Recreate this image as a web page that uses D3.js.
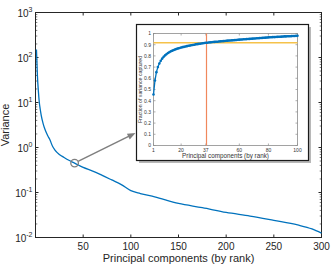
<!DOCTYPE html>
<html>
<head>
<meta charset="utf-8">
<script src="https://cdn.jsdelivr.net/npm/d3@7"></script>
<style>
body { margin: 0; background: #fff; }
svg { display: block; font-family: "Liberation Sans", Arial, sans-serif; }
</style>
</head>
<body>
<svg id="chart" width="332" height="267"></svg>
<script>
// main curve: variance by component rank
var mainRanks = [1, 2, 3, 4, 5, 6, 8, 10, 13, 15, 18, 20, 25, 30, 35, 41, 50, 60, 70, 80, 90, 100, 110, 125, 150, 175, 200, 225, 250, 275, 290, 300];
var mainVariance = [150, 40, 18, 10, 7, 5.2, 3.4, 2.5, 1.8, 1.5, 1.05, 0.9, 0.7, 0.6, 0.52, 0.45, 0.36, 0.3, 0.24, 0.19, 0.15, 0.11, 0.095, 0.08, 0.057, 0.046, 0.036, 0.03, 0.024, 0.019, 0.0155, 0.0125];
var xTicks = [50, 100, 150, 200, 250, 300];
var yExps = [-2, -1, 0, 1, 2, 3];
var markRank = 41, markValue = 0.45;

// inset: cumulative fraction of variance for ranks 1..100
var insetFraction = [0.455, 0.58, 0.655, 0.70, 0.732, 0.757, 0.776, 0.792, 0.805, 0.816,
  0.826, 0.834, 0.841, 0.847, 0.853, 0.858, 0.863, 0.867, 0.871, 0.875,
  0.878, 0.881, 0.884, 0.887, 0.890, 0.892, 0.895, 0.897, 0.899, 0.903,
  0.905, 0.907, 0.909, 0.911, 0.913, 0.915, 0.917, 0.918, 0.920, 0.921,
  0.922, 0.924, 0.925, 0.926, 0.927, 0.929, 0.930, 0.931, 0.932, 0.933,
  0.935, 0.936, 0.937, 0.938, 0.939, 0.940, 0.941, 0.942, 0.944, 0.945,
  0.946, 0.947, 0.948, 0.949, 0.950, 0.951, 0.952, 0.953, 0.954, 0.955,
  0.956, 0.957, 0.958, 0.959, 0.960, 0.961, 0.962, 0.963, 0.964, 0.965,
  0.966, 0.967, 0.968, 0.968, 0.969, 0.970, 0.971, 0.971, 0.972, 0.973,
  0.974, 0.974, 0.975, 0.976, 0.976, 0.977, 0.978, 0.978, 0.979, 0.980];
var insetXTicks = [1, 20, 37, 60, 80, 100];
var insetYTicks = [0, 0.1, 0.2, 0.3, 0.4, 0.5, 0.6, 0.7, 0.8, 0.9, 1];
var cutRank = 37, cutFraction = 0.917;

var blue = "#0072BD";
var svg = d3.select("#chart");

var ml = 35.5, mr = 321.5, mt = 12.5, mb = 237.5;
var x = d3.scaleLinear().domain([0, 300]).range([ml, mr]);
var y = d3.scaleLog().domain([0.01, 1000]).range([mb, mt]);

// box
svg.append("rect").attr("x", ml).attr("y", mt).attr("width", mr - ml).attr("height", mb - mt)
  .attr("fill", "none").attr("stroke", "#262626").attr("stroke-width", 1);

// x ticks, inward top and bottom
xTicks.forEach(function(t) {
  svg.append("line").attr("x1", x(t)).attr("x2", x(t)).attr("y1", mb).attr("y2", mb - 3).attr("stroke", "#262626");
  svg.append("line").attr("x1", x(t)).attr("x2", x(t)).attr("y1", mt).attr("y2", mt + 3).attr("stroke", "#262626");
  svg.append("text").attr("x", x(t)).attr("y", mb + 12).attr("text-anchor", "middle")
    .attr("font-size", 10).attr("fill", "#262626").text(t);
});

// y ticks, major and minor
yExps.forEach(function(e) {
  var v = Math.pow(10, e);
  [ml, mr].forEach(function(side, i) {
    var dir = i == 0 ? 1 : -1;
    svg.append("line").attr("x1", side).attr("x2", side + dir * 3).attr("y1", y(v)).attr("y2", y(v)).attr("stroke", "#262626");
    if (e < 3) {
      for (var k = 2; k < 10; k++) {
        svg.append("line").attr("x1", side).attr("x2", side + dir * 1.8)
          .attr("y1", y(k * v)).attr("y2", y(k * v)).attr("stroke", "#262626").attr("stroke-width", 0.6);
      }
    }
  });
  var t = svg.append("text").attr("x", ml - 3).attr("y", y(v) + 4).attr("text-anchor", "end")
    .attr("font-size", 10).attr("fill", "#262626");
  t.append("tspan").text("10");
  t.append("tspan").attr("dy", -5).attr("font-size", 7).text(e);
});

svg.append("text").attr("transform", "translate(9," + ((mt + mb) / 2) + ") rotate(-90)")
  .attr("text-anchor", "middle").attr("font-size", 11).attr("fill", "#262626").text("Variance");
svg.append("text").attr("x", (ml + mr) / 2).attr("y", 262).attr("text-anchor", "middle")
  .attr("font-size", 11).attr("fill", "#262626").text("Principal components (by rank)");

// main curve
var mainLine = d3.line()
  .x(function(d, i) { return x(mainRanks[i]); })
  .y(function(d) { return y(d); })
  .curve(d3.curveMonotoneX);
svg.append("path").datum(mainVariance).attr("d", mainLine)
  .attr("fill", "none").attr("stroke", blue).attr("stroke-width", 1.3);

// inset box with shadow
var bx0 = 136.5, bx1 = 308.5, by0 = 24.5, by1 = 160.5;
svg.append("rect").attr("x", bx0 + 2.5).attr("y", by0 + 2.5).attr("width", bx1 - bx0).attr("height", by1 - by0)
  .attr("fill", "#9a9a9a").attr("opacity", 0.7);
svg.append("rect").attr("x", bx0).attr("y", by0).attr("width", bx1 - bx0).attr("height", by1 - by0)
  .attr("fill", "#fff").attr("stroke", "#1a1a1a").attr("stroke-width", 1.2);

// pointer from marked point to inset
var mx = x(markRank), my = y(markValue);
var ax = bx0 - 1, ay = 133;
var ang = Math.atan2(ay - my, ax - mx);
var r = 3.8;
svg.append("line").attr("x1", mx + r * Math.cos(ang)).attr("y1", my + r * Math.sin(ang))
  .attr("x2", ax - 6 * Math.cos(ang)).attr("y2", ay - 6 * Math.sin(ang))
  .attr("stroke", "#7f7f7f").attr("stroke-width", 1.5);
var hx = ax, hy = ay, hl = 8, hw = 3.2;
var bxp = hx - hl * Math.cos(ang), byp = hy - hl * Math.sin(ang);
svg.append("path")
  .attr("d", "M" + hx + "," + hy +
    "L" + (bxp + hw * Math.sin(ang)) + "," + (byp - hw * Math.cos(ang)) +
    "L" + (bxp - hw * Math.sin(ang)) + "," + (byp + hw * Math.cos(ang)) + "Z")
  .attr("fill", "#7f7f7f");
svg.append("circle").attr("cx", mx).attr("cy", my).attr("r", r)
  .attr("fill", "none").attr("stroke", "#7f7f7f").attr("stroke-width", 1.3);

// inset axes
var il = 153.5, ir = 297.5, it = 33.5, ib = 145.5;
var ix = d3.scaleLinear().domain([1, 100]).range([il, ir]);
var iy = d3.scaleLinear().domain([0, 1]).range([ib, it]);
var g = svg.append("g");
g.append("rect").attr("x", il).attr("y", it).attr("width", ir - il).attr("height", ib - it)
  .attr("fill", "none").attr("stroke", "#8c8c8c").attr("stroke-width", 0.8);
insetXTicks.forEach(function(t) {
  g.append("line").attr("x1", ix(t)).attr("x2", ix(t)).attr("y1", ib).attr("y2", ib - 2).attr("stroke", "#8c8c8c").attr("stroke-width", 0.7);
  g.append("line").attr("x1", ix(t)).attr("x2", ix(t)).attr("y1", it).attr("y2", it + 2).attr("stroke", "#8c8c8c").attr("stroke-width", 0.7);
  g.append("text").attr("x", ix(t)).attr("y", ib + 6.5).attr("text-anchor", "middle")
    .attr("font-size", 5).attr("fill", "#333").text(t);
});
insetYTicks.forEach(function(t) {
  g.append("line").attr("x1", il).attr("x2", il + 2).attr("y1", iy(t)).attr("y2", iy(t)).attr("stroke", "#8c8c8c").attr("stroke-width", 0.7);
  g.append("line").attr("x1", ir).attr("x2", ir - 2).attr("y1", iy(t)).attr("y2", iy(t)).attr("stroke", "#8c8c8c").attr("stroke-width", 0.7);
  g.append("text").attr("x", il - 2.5).attr("y", iy(t) + 1.8).attr("text-anchor", "end")
    .attr("font-size", 5).attr("fill", "#333").text(t);
});
g.append("text").attr("transform", "translate(142," + ((it + ib) / 2) + ") rotate(-90)")
  .attr("text-anchor", "middle").attr("font-size", 5.2).attr("fill", "#333").text("Fraction of variance captured");
g.append("text").attr("x", (il + ir) / 2).attr("y", ib + 12).attr("text-anchor", "middle")
  .attr("font-size", 6.3).attr("fill", "#333").text("Principal components (by rank)");

// threshold lines
g.append("line").attr("x1", il).attr("x2", ir).attr("y1", iy(cutFraction)).attr("y2", iy(cutFraction))
  .attr("stroke", "#F5C24A").attr("stroke-width", 1.4);
g.append("line").attr("x1", Math.round(ix(cutRank)) + 0.5).attr("x2", Math.round(ix(cutRank)) + 0.5).attr("y1", it).attr("y2", ib)
  .attr("stroke", "#F0885C").attr("stroke-width", 1.2);

// inset curve with dot markers
var insetLine = d3.line()
  .x(function(d, i) { return ix(i + 1); })
  .y(function(d) { return iy(d); });
g.append("path").datum(insetFraction).attr("d", insetLine)
  .attr("fill", "none").attr("stroke", blue).attr("stroke-width", 1.3);
g.selectAll("circle.pt").data(insetFraction).enter().append("circle").attr("class", "pt")
  .attr("cx", function(d, i) { return ix(i + 1); })
  .attr("cy", function(d) { return iy(d); })
  .attr("r", 1.3).attr("fill", blue);
</script>
</body>
</html>
